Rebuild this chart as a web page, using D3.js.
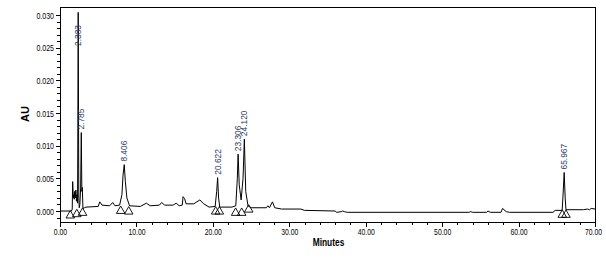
<!DOCTYPE html>
<html><head><meta charset="utf-8">
<script src="https://cdn.jsdelivr.net/npm/d3@7"></script>
<style>body{margin:0;background:#fff} svg{display:block}</style>
</head><body>
<svg id="c" width="606" height="271"></svg>
<script>
// ---- data ----
const times = [0.0,1.5,1.6,1.66,1.74,1.8,1.86,1.92,2.0,2.08,2.15,2.22,2.3,2.383,2.46,2.52,2.6,2.7,2.785,2.86,2.92,3.0,3.2,3.4,5.0,5.2,5.5,6.5,6.9,7.2,7.8,8.1,8.25,8.406,8.55,8.75,9.1,10.5,11.3,11.8,13.0,13.3,13.7,14.8,15.2,15.6,16.0,16.1,16.3,16.5,17.5,18.3,18.8,19.5,20.3,20.5,20.622,20.75,20.9,22.5,23.0,23.2,23.306,23.45,23.7,23.95,24.12,24.3,24.6,25.0,27.0,27.2,27.4,27.8,28.1,29.0,31.5,32.0,36.0,36.2,36.8,37.0,37.2,37.6,53.5,53.7,54.0,55.8,56.0,56.3,57.7,57.9,58.4,58.8,64.5,64.8,65.7,65.8,65.967,66.1,66.2,68.5,69.0,69.3,69.5,70.0];
const absorbance = [0.0000,0.0000,0.0003,0.0045,0.0020,0.0025,0.0018,0.0030,0.0020,0.0032,0.0015,0.0025,0.0012,0.0304,0.0020,0.0005,0.0010,0.0035,0.0120,0.0030,0.0036,0.0004,0.0005,0.0006,0.0007,0.0014,0.0009,0.0008,0.0013,0.0008,0.0009,0.0025,0.0055,0.0071,0.0045,0.0020,0.0008,0.0007,0.0012,0.0008,0.0009,0.0013,0.0009,0.0009,0.0012,0.0008,0.0009,0.0022,0.0019,0.0011,0.0011,0.0017,0.0011,0.0006,0.0007,0.0030,0.0051,0.0020,0.0006,0.0006,0.0008,0.0050,0.0087,0.0040,0.0017,0.0050,0.0110,0.0030,0.0008,0.0005,0.0005,0.0008,0.0005,0.0014,0.0005,0.0003,0.0003,0.0001,0.0000,-0.0002,-0.0001,0.0000,-0.0001,-0.0002,-0.0002,-0.0001,-0.0002,-0.0002,0.0000,-0.0002,-0.0002,0.0004,-0.0001,-0.0002,-0.0002,0.0001,0.0001,0.0020,0.0059,0.0020,0.0002,0.0002,0.0003,0.0002,0.0004,0.0003];

const peakTimes   = [2.383, 2.785, 8.406, 20.622, 23.306, 24.120, 65.967];
const peakHeights = [0.0304, 0.0120, 0.0071, 0.0051, 0.0087, 0.0110, 0.0059];
const peakLabels  = ["2.383", "2.785", "8.406", "20.622", "23.306", "24.120", "65.967"];

const markerTimes  = [1.35, 2.2, 2.95, 7.94, 8.99, 20.37, 20.85, 22.98, 23.77, 24.69, 65.72, 66.2];
const markerValues = [0.0000, 0.0002, 0.0004, 0.0007, 0.0006, 0.0006, 0.0006, 0.0004, 0.0004, 0.0009, 0.0001, 0.0001];

const xTicks = [0, 10, 20, 30, 40, 50, 60, 70];
const xTickLabels = ["0.00", "10.00", "20.00", "30.00", "40.00", "50.00", "60.00", "70.00"];
const yTicks = [0, 0.005, 0.010, 0.015, 0.020, 0.025, 0.030];
const yTickLabels = ["0.000", "0.005", "0.010", "0.015", "0.020", "0.025", "0.030"];
const xTitle = "Minutes";
const yTitle = "AU";

// ---- layout ----
const L = 60, R = 595, T = 7, B = 222;
const svg = d3.select("#c");
const x = d3.scaleLinear().domain([0, 70]).range([L, R]);
const y = d3.scaleLinear().domain([-0.00168, 0.03122]).range([B, T]);
const FONT = "'Liberation Sans', Arial, sans-serif";
const SQX = 0.72, SQY = 0.74;

// frame
svg.append("rect").attr("x", L).attr("y", T).attr("width", R - L).attr("height", B - T)
  .attr("fill", "none").attr("stroke", "#000").attr("stroke-width", 1)
  .attr("shape-rendering", "crispEdges");

// y axis minor
svg.append("g").attr("transform", `translate(${L},0)`)
  .call(d3.axisLeft(y).tickValues(d3.range(-1, 31).map(d => d / 1000)).tickSize(3).tickFormat(""))
  .call(g => g.select(".domain").remove())
  .attr("shape-rendering", "crispEdges");
// y axis major
const ya = svg.append("g").attr("transform", `translate(${L},0)`)
  .call(d3.axisLeft(y).tickValues(yTicks).tickSize(4).tickPadding(2).tickFormat((d, i) => yTickLabels[i]))
  .attr("shape-rendering", "crispEdges");
ya.select(".domain").remove();
ya.selectAll("text").attr("font-family", FONT).attr("font-size", 9.5).attr("fill", "#000")
  .attr("x", -6 / SQY).attr("transform", `scale(${SQY},1)`);

// x axis minor
svg.append("g").attr("transform", `translate(0,${B})`)
  .call(d3.axisBottom(x).tickValues(d3.range(0, 71, 2)).tickSize(3).tickFormat(""))
  .call(g => g.select(".domain").remove())
  .attr("shape-rendering", "crispEdges");
const xa = svg.append("g").attr("transform", `translate(0,${B})`)
  .call(d3.axisBottom(x).tickValues(xTicks).tickSize(5).tickPadding(1).tickFormat((d, i) => xTickLabels[i]))
  .attr("shape-rendering", "crispEdges");
xa.select(".domain").remove();
xa.selectAll("text").attr("font-family", FONT).attr("font-size", 9.5).attr("fill", "#000")
  .attr("transform", `scale(${SQX},1)`);
// keep the last label inside the window
xa.selectAll(".tick").filter(d => d === 70).select("text").attr("x", -2 / SQX);

// titles
svg.append("text").attr("transform", "translate(328.5,246) scale(0.8,1)").attr("text-anchor", "middle")
  .attr("font-family", FONT).attr("font-size", 10.5).attr("font-weight", "bold").text(xTitle);
svg.append("text").attr("transform", "translate(29,114) rotate(-90)").attr("text-anchor", "middle")
  .attr("font-family", FONT).attr("font-size", 11).attr("font-weight", "bold").text(yTitle);

// trace
const pts = times.map((t, i) => [t, absorbance[i]]);
svg.append("path").datum(pts)
  .attr("d", d3.line().x(d => x(d[0])).y(d => y(d[1])))
  .attr("fill", "none").attr("stroke", "#000").attr("stroke-width", 1);

// baseline markers (open triangles)
const tri = d3.symbol().type(d3.symbolTriangle).size(32);
svg.selectAll("path.mk").data(markerTimes.map((t, i) => [t, markerValues[i]])).join("path")
  .attr("class", "mk")
  .attr("transform", d => `translate(${x(d[0])},${y(d[1]) + 4.5})`)
  .attr("d", tri).attr("fill", "none").attr("stroke", "#000").attr("stroke-width", 0.9);

// peak labels
peakTimes.forEach((t, i) => {
  const px = x(t), py = y(peakHeights[i]);
  const txt = svg.append("text").attr("font-family", FONT).attr("font-size", 9)
    .attr("fill", "#2a3a6a").attr("text-anchor", "start").attr("dominant-baseline", "central")
    .text(peakLabels[i]);
  const len = txt.node().getComputedTextLength() * 0.93;
  const yb = Math.max(py - 3, T + 18 + len);
  txt.attr("transform", `translate(${px},${yb}) rotate(-90) scale(0.93,1)`);
});
</script>
</body></html>
